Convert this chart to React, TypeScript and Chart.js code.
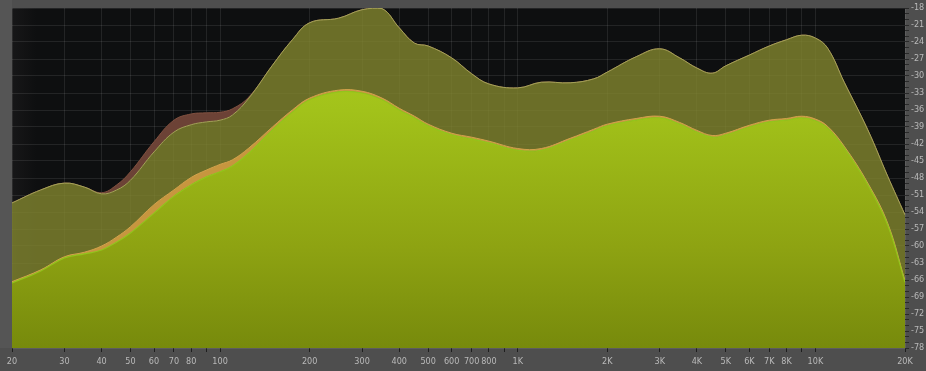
import React, { useEffect, useRef } from "react";
import { Chart, registerables } from "chart.js";

Chart.register(...registerables);

// Frequencies (Hz) at which the spectrum curves were sampled
const freqs = [20, 25, 30, 35, 40, 45, 50, 60, 70, 80, 90, 100, 110, 125, 150, 175, 200, 250, 300, 350, 400, 450, 500, 600, 700, 800, 1000, 1200, 1500, 1800, 2000, 2500, 3000, 3500, 4000, 4500, 5000, 6000, 7000, 8000, 9000, 10000, 11000, 12500, 15000, 17500, 20000];

// Peak hold (brown)
const peakHoldDb = [-52.4, -50.1, -48.9, -49.6, -50.6, -49.2, -46.9, -41.6, -37.8, -36.7, -36.5, -36.4, -35.8, -33.7, -28.1, -23.6, -20.6, -19.8, -18.3, -18.1, -21.5, -24.2, -24.7, -26.8, -29.6, -31.4, -32.1, -31.1, -31.2, -30.5, -29.3, -26.6, -25.2, -26.8, -28.6, -29.5, -28.2, -26.3, -24.7, -23.6, -22.8, -23.3, -25.1, -31.1, -39.5, -47.7, -54.5];
// Peak (olive, translucent)
const peakDb = [-52.4, -50.1, -48.9, -49.6, -50.8, -50.1, -48.4, -43.4, -39.9, -38.6, -38.1, -37.8, -36.9, -33.9, -28.1, -23.6, -20.6, -19.8, -18.3, -18.1, -21.5, -24.2, -24.7, -26.8, -29.6, -31.4, -32.1, -31.1, -31.2, -30.5, -29.3, -26.6, -25.2, -26.8, -28.6, -29.5, -28.2, -26.3, -24.7, -23.6, -22.8, -23.3, -25.1, -31.1, -39.5, -47.7, -54.5];
// Average hold (orange)
const avgHoldDb = [-66.3, -64.2, -61.9, -61.1, -60.0, -58.4, -56.6, -52.7, -50.1, -47.9, -46.6, -45.6, -44.8, -42.7, -39.0, -36.0, -33.9, -32.5, -32.7, -33.9, -35.7, -37.1, -38.5, -40.1, -40.8, -41.5, -42.8, -42.8, -41.0, -39.4, -38.5, -37.5, -37.1, -38.2, -39.6, -40.5, -40.1, -38.7, -37.8, -37.5, -37.1, -37.6, -38.9, -42.4, -48.9, -56.0, -66.1];
// Average (bright green)
const avgDb = [-66.5, -64.4, -62.1, -61.4, -60.7, -59.3, -57.7, -54.2, -51.2, -49.2, -47.8, -46.9, -45.9, -43.6, -39.5, -36.4, -34.2, -32.8, -33.0, -34.2, -36.0, -37.4, -38.8, -40.4, -41.1, -41.8, -43.1, -43.1, -41.3, -39.7, -38.8, -37.8, -37.4, -38.5, -39.9, -40.8, -40.4, -39.0, -38.1, -37.8, -37.4, -37.9, -39.2, -42.7, -49.2, -56.3, -66.4];

const freqTicks = [20, 30, 40, 50, 60, 70, 80, 90, 100, 200, 300, 400, 500, 600, 700, 800, 900, 1000, 2000, 3000, 4000, 5000, 6000, 7000, 8000, 9000, 10000, 20000];
const freqLabels = ["20", "30", "40", "50", "60", "70", "80", "", "100", "200", "300", "400", "500", "600", "700", "800", "", "1K", "2K", "3K", "4K", "5K", "6K", "7K", "8K", "", "10K", "20K"];
const dbMin = -78;
const dbMax = -18;
const dbLabelStep = 3;

const pts = (vals: number[]) => freqs.map((f, i) => ({ x: f, y: vals[i] }));

const FONT = "'Liberation Sans Narrow', 'DejaVu Sans Condensed', 'Roboto', sans-serif";
const TENSION = 0.4;

const bgPlugin = {
  id: "bgPanel",
  beforeDraw(chart: any) {
    const { ctx, chartArea: a, width, height } = chart;
    ctx.save();
    ctx.fillStyle = "#4e4e4e";
    ctx.fillRect(0, 0, width, height);
    ctx.fillStyle = "#555555";
    ctx.fillRect(0, 0, a.left, a.bottom);
    const g = ctx.createLinearGradient(a.left, 0, a.left + 24, 0);
    g.addColorStop(0, "#171718");
    g.addColorStop(1, "#0e0f10");
    ctx.fillStyle = g;
    ctx.fillRect(a.left, a.top, a.right - a.left, a.bottom - a.top);
    ctx.restore();
  },
};

export default function App() {
  const ref = useRef<HTMLCanvasElement | null>(null);

  useEffect(() => {
    const canvas = ref.current;
    if (!canvas) return;
    const greenFill = (c: any) => {
      const chart = c.chart;
      const a = chart.chartArea;
      if (!a) return "#9ab818";
      const g = chart.ctx.createLinearGradient(0, a.top, 0, a.bottom);
      g.addColorStop(0, "#aed222");
      g.addColorStop(0.3, "#a2c21a");
      g.addColorStop(0.7, "#8ea312");
      g.addColorStop(1, "#778a0c");
      return g;
    };
    const common = { pointRadius: 0, tension: TENSION };
    const chart = new Chart(canvas, {
      type: "line",
      data: {
        datasets: [
          {
            label: "Average",
            data: pts(avgDb),
            borderColor: "#93c51c",
            borderWidth: 1.2,
            backgroundColor: greenFill,
            fill: "start",
            ...common,
          },
          {
            label: "Average hold",
            data: pts(avgHoldDb),
            borderColor: "#d2a24c",
            borderWidth: 1,
            backgroundColor: "#c7963f",
            fill: 0,
            ...common,
          },
          {
            label: "Peak",
            data: pts(peakDb),
            borderColor: "#a4a258",
            borderWidth: 1,
            backgroundColor: "rgba(128,132,46,0.82)",
            fill: "start",
            ...common,
          },
          {
            label: "Peak hold",
            data: pts(peakHoldDb),
            borderColor: "#80503f",
            borderWidth: 1,
            backgroundColor: "#6c4236",
            fill: 2,
            ...common,
          },
        ],
      },
      options: {
        animation: false,
        responsive: false,
        devicePixelRatio: 1,
        layout: { padding: { left: 12, top: 8, right: 0, bottom: 0 } },
        plugins: {
          legend: { display: false },
          tooltip: { enabled: false },
        },
        scales: {
          x: {
            type: "logarithmic",
            position: "bottom",
            min: 20,
            max: 20000,
            afterBuildTicks: (s: any) => {
              s.ticks = freqTicks.map((v) => ({ value: v }));
            },
            afterFit: (s: any) => {
              s.height = 23;
            },
            ticks: {
              autoSkip: false,
              maxRotation: 0,
              padding: 4,
              color: "#b9b9b9",
              font: { family: FONT, size: 9 },
              callback: (_v: any, i: number) => freqLabels[i],
            },
            grid: {
              color: "rgba(255,255,255,0.09)",
              tickColor: "#1e1e1e",
              tickLength: 4,
              lineWidth: 1,
            },
            border: { display: false },
          },
          y: {
            position: "right",
            min: dbMin,
            max: dbMax,
            afterBuildTicks: (s: any) => {
              const t: any[] = [];
              for (let v = dbMin; v <= dbMax; v += 1) t.push({ value: v });
              s.ticks = t;
            },
            afterFit: (s: any) => {
              s.width = 21;
            },
            ticks: {
              autoSkip: false,
              padding: 2,
              color: "#b9b9b9",
              font: { family: FONT, size: 9 },
              callback: (v: any) => (Math.round(v) % dbLabelStep === 0 ? String(Math.round(v)) : ""),
            },
            grid: {
              color: (c: any) =>
                c.tick && Math.round(c.tick.value) % dbLabelStep === 0 ? "rgba(255,255,255,0.09)" : "rgba(0,0,0,0)",
              tickColor: "#2a2a2a",
              tickLength: 4,
              lineWidth: 1,
            },
            border: { display: false },
          },
        },
      },
      plugins: [bgPlugin],
    } as any);
    return () => chart.destroy();
  }, []);

  return (
    <div style={{ position: "fixed", left: 0, top: 0, width: 926, height: 371, background: "#4e4e4e" }}>
      <canvas ref={ref} width={926} height={371} style={{ display: "block" }} />
    </div>
  );
}
